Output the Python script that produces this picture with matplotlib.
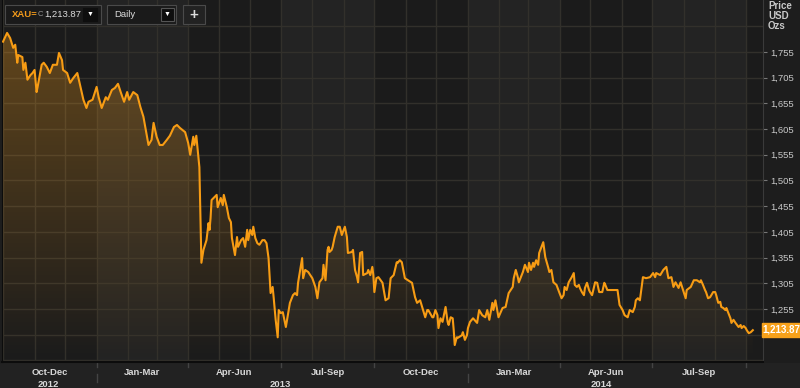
import numpy as np
import matplotlib
matplotlib.use("Agg")
import matplotlib.pyplot as plt
import matplotlib.dates as mdates
from matplotlib.patches import Rectangle, Polygon

plt.rcParams['font.family'] = ['Liberation Sans', 'DejaVu Sans']

# XAU= daily close, days counted from 2012-10-01
start = np.datetime64('2012-10-01')
day = [0, 4, 7, 10, 12, 14, 15, 19, 20, 22, 24, 27, 29, 31, 33, 34, 38, 40, 43, 46,
       49, 53, 55, 58, 59, 63, 66, 69, 73, 75, 79, 82, 84, 88, 92, 94, 97, 101, 103, 107,
       110, 113, 116, 119, 122, 124, 128, 132, 135, 138, 140, 143, 146, 148, 151, 154, 157, 161, 164, 168,
       171, 174, 179, 182, 184, 187, 188, 190, 192, 193, 195, 197, 200, 202, 203, 204, 205, 208, 210, 211,
       214, 216, 217, 220, 222, 224, 225, 228, 230, 231, 234, 236, 238, 240, 241, 243, 245, 246, 248, 250,
       252, 255, 257, 259, 261, 263, 265, 266, 268, 270, 271, 273, 275, 278, 282, 285, 287, 289, 290, 292,
       294, 295, 297, 300, 304, 307, 309, 311, 314, 315, 317, 319, 320, 321, 323, 324, 326, 329, 331, 333,
       336, 338, 339, 343, 344, 346, 348, 349, 351, 353, 354, 358, 359, 361, 363, 364, 365, 367, 369, 373,
       376, 379, 381, 384, 387, 388, 390, 392, 395, 398, 402, 405, 407, 410, 412, 415, 417, 418, 422, 423,
       425, 427, 428, 430, 432, 435, 437, 438, 440, 442, 443, 444, 446, 447, 451, 452, 454, 456, 457, 459,
       462, 466, 468, 471, 474, 476, 478, 481, 482, 484, 487, 491, 494, 497, 501, 502, 504, 506, 507, 511,
       513, 516, 517, 519, 521, 522, 524, 526, 527, 531, 533, 536, 537, 539, 541, 544, 547, 549, 551, 552,
       554, 556, 559, 561, 562, 564, 566, 567, 569, 571, 572, 574, 576, 577, 579, 582, 584, 586, 589, 591,
       592, 594, 599, 604, 606, 609, 611, 614, 616, 619, 621, 622, 624, 626, 629, 632, 636, 639, 641, 642,
       646, 649, 652, 654, 657, 659, 661, 664, 666, 669, 671, 672, 676, 679, 682, 685, 686, 688, 690, 691,
       693, 695, 698, 700, 701, 703, 705, 706, 708, 710, 711, 715, 716, 718, 720, 723, 725, 726, 728, 730,
       731, 733, 735, 737]
price = [1775, 1792, 1782, 1763, 1769, 1734, 1749, 1745, 1720, 1734, 1701, 1710, 1714, 1720, 1677, 1687, 1730, 1734, 1726, 1714,
         1730, 1730, 1753, 1739, 1720, 1714, 1695, 1704, 1714, 1697, 1662, 1646, 1658, 1662, 1687, 1667, 1646, 1667, 1662, 1681,
         1685, 1693, 1675, 1658, 1677, 1662, 1677, 1671, 1648, 1629, 1607, 1574, 1584, 1617, 1590, 1574, 1574, 1584, 1592, 1609,
         1613, 1607, 1599, 1578, 1555, 1590, 1574, 1592, 1551, 1531, 1345, 1370, 1389, 1422, 1409, 1432, 1467, 1473, 1477, 1453,
         1471, 1457, 1477, 1453, 1432, 1424, 1393, 1360, 1395, 1376, 1389, 1393, 1376, 1409, 1389, 1409, 1399, 1415, 1393, 1383,
         1380, 1389, 1389, 1383, 1354, 1286, 1298, 1278, 1234, 1200, 1253, 1247, 1249, 1220, 1267, 1282, 1286, 1282, 1306, 1330,
         1354, 1315, 1331, 1327, 1315, 1298, 1276, 1307, 1315, 1341, 1311, 1370, 1376, 1366, 1370, 1376, 1395, 1415, 1415, 1399,
         1415, 1395, 1364, 1366, 1370, 1331, 1317, 1307, 1364, 1366, 1321, 1325, 1331, 1321, 1337, 1321, 1288, 1315, 1317, 1306,
         1272, 1276, 1315, 1321, 1346, 1345, 1350, 1346, 1315, 1311, 1306, 1278, 1267, 1272, 1259, 1239, 1253, 1253, 1239, 1239,
         1253, 1243, 1218, 1237, 1230, 1259, 1230, 1224, 1239, 1237, 1214, 1185, 1200, 1199, 1204, 1210, 1195, 1204, 1218, 1230,
         1237, 1228, 1253, 1243, 1239, 1253, 1234, 1267, 1253, 1272, 1239, 1257, 1259, 1286, 1298, 1315, 1331, 1317, 1307, 1327,
         1341, 1327, 1345, 1331, 1345, 1337, 1350, 1341, 1364, 1385, 1356, 1335, 1327, 1331, 1307, 1302, 1286, 1276, 1282, 1298,
         1292, 1307, 1317, 1325, 1302, 1298, 1302, 1296, 1288, 1282, 1296, 1306, 1292, 1288, 1282, 1307, 1306, 1288, 1288, 1306,
         1302, 1292, 1292, 1292, 1263, 1253, 1243, 1239, 1253, 1249, 1259, 1272, 1276, 1272, 1317, 1315, 1317, 1325, 1317, 1325,
         1321, 1331, 1337, 1315, 1317, 1298, 1307, 1296, 1307, 1288, 1276, 1292, 1298, 1311, 1311, 1307, 1311, 1302, 1292, 1288,
         1276, 1278, 1288, 1288, 1282, 1267, 1269, 1259, 1257, 1253, 1257, 1237, 1228, 1234, 1228, 1220, 1224, 1218, 1222, 1218,
         1214, 1208, 1210, 1213.87]

grid_levels = list(range(1155, 1806, 50))
tick_levels = list(range(1205, 1756, 50))
quarter_names = ['Oct-Dec', 'Jan-Mar', 'Apr-Jun', 'Jul-Sep', 'Oct-Dec', 'Jan-Mar', 'Apr-Jun', 'Jul-Sep']
quarter_starts = ['2012-10-01', '2013-01-01', '2013-04-01', '2013-07-01', '2013-10-01',
                  '2014-01-01', '2014-04-01', '2014-07-01', '2014-10-01', '2015-01-01']
year_labels = ['2012', '2013', '2014']
year_pos = ['2012-11-15', '2013-07-01', '2014-05-12']
last_price = '1,213.87'

dates = start + np.array(day).astype('timedelta64[D]')
xs = mdates.date2num(dates)
x0 = mdates.date2num(np.datetime64('2012-09-30'))
x1 = mdates.date2num(np.datetime64('2014-10-18'))
ylo, yhi = 1152, 1856

W, H = 800, 388
fig = plt.figure(figsize=(8, 3.88), dpi=100, facecolor='#1d1d1d')


def fx(px):
    return px / W


def fy(py):
    return 1 - py / H


ax = fig.add_axes([fx(2), fy(362), fx(763) - fx(2), fy(0) - fy(362)])
ax.set_facecolor('#1b1b1b')
ax.set_xlim(x0, x1)
ax.set_ylim(ylo, yhi)

# alternating quarter bands
qs = mdates.date2num(np.array(quarter_starts, dtype='datetime64[D]'))
for i in range(len(qs) - 1):
    c = '#1b1b1b' if i % 2 == 0 else '#232323'
    ax.axvspan(qs[i], qs[i + 1], color=c, lw=0, zorder=0)

# grid
months = np.arange(np.datetime64('2012-10'), np.datetime64('2014-11'), dtype='datetime64[M]')
for m in mdates.date2num(months.astype('datetime64[D]')):
    ax.axvline(m, color='#32302b', lw=1, zorder=1)
for g in grid_levels:
    ax.axhline(g, color='#32302b', lw=1, zorder=1)

# gradient fill under the line
grad = np.zeros((256, 1, 4))
grad[:, 0, 0] = 0.96
grad[:, 0, 1] = 0.62
grad[:, 0, 2] = 0.12
grad[:, 0, 3] = np.linspace(0.36, 0.0, 256)
im = ax.imshow(grad, extent=[x0, x1, ylo, yhi], aspect='auto', origin='upper', zorder=2)
poly = Polygon(np.vstack([[xs[0], ylo], np.column_stack([xs, price]), [xs[-1], ylo]]),
               closed=True, facecolor='none', edgecolor='none', transform=ax.transData)
ax.add_patch(poly)
im.set_clip_path(poly)

ax.plot(xs, price, color='#f79c14', lw=1.5, zorder=3)

ax.yaxis.tick_right()
ax.set_yticks(tick_levels)
ax.set_yticklabels(['' if v == 1205 else f'{v:,}' for v in tick_levels])
ax.tick_params(axis='y', colors='#777777', labelcolor='#c8c8c8', labelsize=6.8, length=3, pad=2)
ax.set_xticks([])
ax.spines['top'].set_visible(False)
ax.spines['right'].set_color('#3a3a3a')
ax.spines['left'].set_color('#0c0c0c')
ax.spines['bottom'].set_color('#0c0c0c')
ax.spines['bottom'].set_linewidth(1.5)

# bottom axis strip
fig.add_artist(Rectangle((0, 0), 1, fy(363), transform=fig.transFigure, color='#222222', zorder=0))
tr = ax.get_xaxis_transform()
for i, name in enumerate(quarter_names):
    ax.text((qs[i] + qs[i + 1]) / 2, -0.028, name, transform=tr, ha='center', va='center',
            fontsize=6.8, fontweight='bold', color='#d8d8d8', clip_on=False)
for lab, pos in zip(year_labels, year_pos):
    ax.text(mdates.date2num(np.datetime64(pos)), -0.062, lab, transform=tr, ha='center', va='center',
            fontsize=6.8, fontweight='bold', color='#d8d8d8', clip_on=False)
for q in qs[1:-1]:
    ax.plot([q, q], [-0.003, -0.014], transform=tr, color='#444444', lw=1, clip_on=False)
for q in qs[[1, 5]]:
    ax.plot([q, q], [-0.033, -0.055], transform=tr, color='#444444', lw=1, clip_on=False)

# right header
for i, t in enumerate(['Price', 'USD', 'Ozs']):
    fig.text(fx(768), fy(6 + 10 * i), t, fontsize=7, fontweight='bold', color='#c8c8c8', va='center')

# last price marker
fig.add_artist(Rectangle((fx(762), fy(337)), fx(38), fy(323) - fy(337), transform=fig.transFigure,
                         color='#f7a11a', zorder=5))
fig.text(fx(781), fy(330), last_price, fontsize=7, fontweight='bold', color='white',
         ha='center', va='center', zorder=6)


# top-left controls
def box(x, y, w, h, fc='#1a1a1a', ec='#4a4a4a'):
    fig.add_artist(Rectangle((fx(x), fy(y + h)), fx(w), fy(y) - fy(y + h), transform=fig.transFigure,
                             facecolor=fc, edgecolor=ec, lw=0.8, zorder=5))


box(5, 5, 96, 19)
fig.text(fx(12), fy(14.5), 'XAU=', fontsize=6.8, fontweight='bold', color='#f29a1a', va='center', zorder=6)
fig.text(fx(38), fy(14.5), 'C', fontsize=5.5, color='#999999', va='center', zorder=6)
fig.text(fx(44), fy(14.5), last_price, fontsize=6.8, color='#dddddd', va='center', zorder=6)
box(83, 8, 14, 13, fc='#0e0e0e', ec='#0e0e0e')
fig.text(fx(90), fy(14.5), '▼', fontsize=5, color='white', ha='center', va='center', zorder=6)
box(107, 5, 69, 19)
fig.text(fx(114), fy(14.5), 'Daily', fontsize=6.8, color='#dddddd', va='center', zorder=6)
box(161, 8, 13, 13, fc='#0e0e0e', ec='#555555')
fig.text(fx(167.5), fy(14.5), '▼', fontsize=5, color='white', ha='center', va='center', zorder=6)
box(183, 5, 22, 19, fc='#222222', ec='#4a4a4a')
fig.text(fx(194), fy(14.5), '+', fontsize=11, fontweight='bold', color='#dddddd', ha='center', va='center', zorder=6)

fig.savefig('out.png', dpi=100, facecolor=fig.get_facecolor())
